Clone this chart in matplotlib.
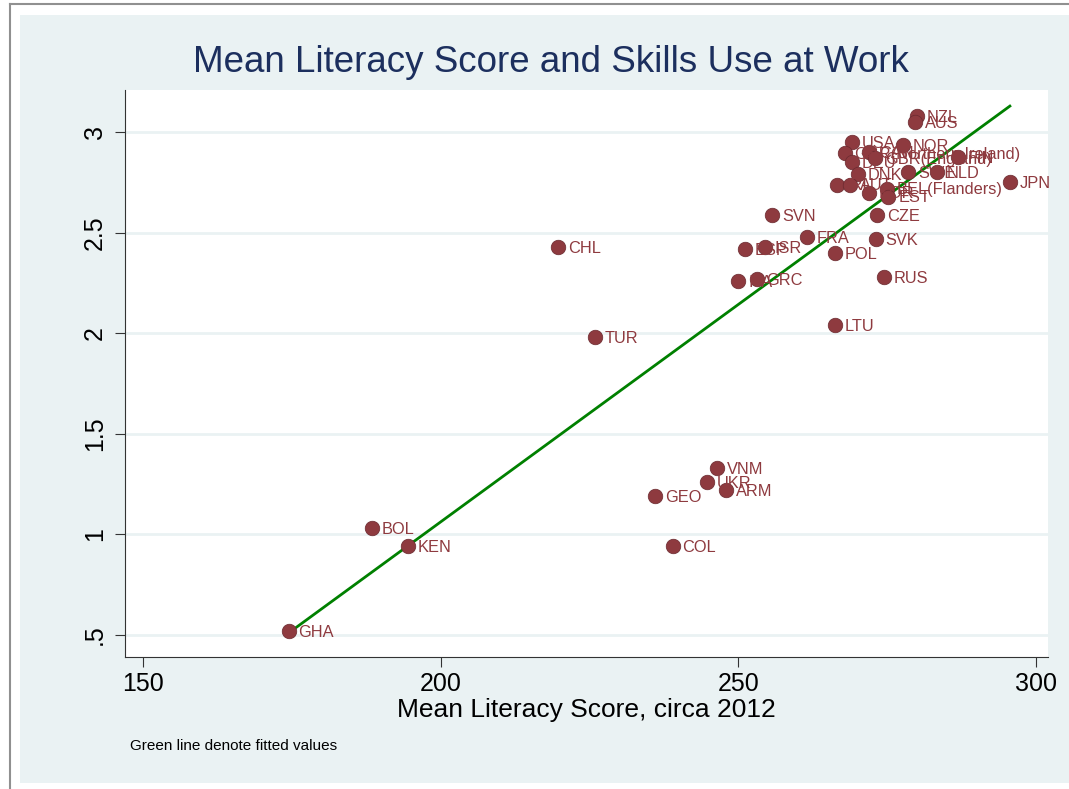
import numpy as np
import matplotlib.pyplot as plt
from matplotlib.patches import Rectangle

plt.rcParams['font.family'] = ['Liberation Sans', 'DejaVu Sans']

countries = ['NZL', 'AUS', 'USA', 'NOR', 'GBR(Northern Ireland)', 'CAN', 'GBR(England)', 'DEU',
             'FIN', 'DNK', 'SWE', 'NLD', 'JPN', 'IRL', 'AUT', 'KOR', 'BEL(Flanders)', 'EST',
             'CZE', 'SVN', 'FRA', 'SVK', 'POL', 'ESP', 'ISR', 'CHL', 'ITA', 'GRC', 'RUS',
             'LTU', 'TUR', 'VNM', 'UKR', 'ARM', 'GEO', 'COL', 'BOL', 'KEN', 'GHA']
literacy = [280.0, 279.7, 269.1, 277.7, 267.9, 272.0, 273.0, 269.1,
            286.9, 270.1, 278.5, 283.4, 295.6, 266.6, 268.8, 272.0, 275.0, 275.2,
            273.3, 255.7, 261.5, 273.1, 266.2, 251.1, 254.5, 219.7, 250.0, 253.1, 274.5,
            266.2, 225.9, 246.4, 244.7, 247.9, 236.0, 239.0, 188.5, 194.5, 174.5]
skills_use = [3.08, 3.05, 2.95, 2.935, 2.895, 2.90, 2.87, 2.85,
              2.875, 2.79, 2.80, 2.80, 2.75, 2.74, 2.74, 2.70, 2.72, 2.68,
              2.59, 2.59, 2.48, 2.47, 2.40, 2.42, 2.43, 2.43, 2.26, 2.27, 2.28,
              2.04, 1.98, 1.33, 1.26, 1.22, 1.19, 0.94, 1.03, 0.94, 0.52]

fit_x = [174.5, 295.6]
fit_y = [0.51, 3.13]

xticks = [150, 200, 250, 300]
yticks = [0.5, 1, 1.5, 2, 2.5, 3]
ytick_labels = ['.5', '1', '1.5', '2', '2.5', '3']

bg = '#EAF2F3'
dot = '#8E3A3F'

fig = plt.figure(figsize=(10.69, 7.89), dpi=100)
fig.patches.append(Rectangle((20 / 1069, 6 / 789), 1.0, 768 / 789, transform=fig.transFigure,
                             facecolor=bg, edgecolor='none', zorder=-2))
fig.add_artist(plt.Line2D([10 / 1069, 10 / 1069], [0, 785 / 789], color='#909090', lw=1.5))
fig.add_artist(plt.Line2D([10 / 1069, 1], [785 / 789, 785 / 789], color='#909090', lw=1.5))

ax = fig.add_axes([125 / 1069, 132 / 789, 923 / 1069, 567 / 789])
ax.set_facecolor('white')
ax.set_xlim(147, 302)
ax.set_ylim(0.39, 3.21)

for yv in yticks:
    ax.axhline(yv, color=bg, lw=2, zorder=0)

ax.plot(fit_x, fit_y, color='#008000', lw=2, zorder=3)
ax.scatter(literacy, skills_use, s=110, color=dot, edgecolors='#6a2a30', linewidths=0.5, zorder=4)
for c, x, y in zip(countries, literacy, skills_use):
    ax.annotate(c, (x, y), xytext=(7, -1), textcoords='offset points', va='center',
                ha='left', fontsize=11.8, color=dot, zorder=5)

ax.spines['top'].set_visible(False)
ax.spines['right'].set_visible(False)
ax.spines['left'].set_color('#333333')
ax.spines['bottom'].set_color('#333333')
ax.set_xticks(xticks)
ax.set_xticklabels([str(t) for t in xticks], fontsize=18)
ax.set_yticks(yticks)
ax.set_yticklabels(ytick_labels, fontsize=18, rotation=90, va='center')
ax.tick_params(axis='x', direction='out', length=7, color='#333333')
ax.tick_params(axis='y', direction='out', length=7, color='#333333', pad=6)
ax.set_xlabel('Mean Literacy Score, circa 2012', fontsize=19, labelpad=2)

fig.text(551 / 1069, 726 / 789, 'Mean Literacy Score and Skills Use at Work', ha='center',
         va='center', fontsize=26.5, color='#1C2F5E')
fig.text(130 / 1069, 43 / 789, 'Green line denote fitted values', ha='left', va='center',
         fontsize=11, color='black')

fig.savefig('out.png', dpi=100, facecolor='white')
